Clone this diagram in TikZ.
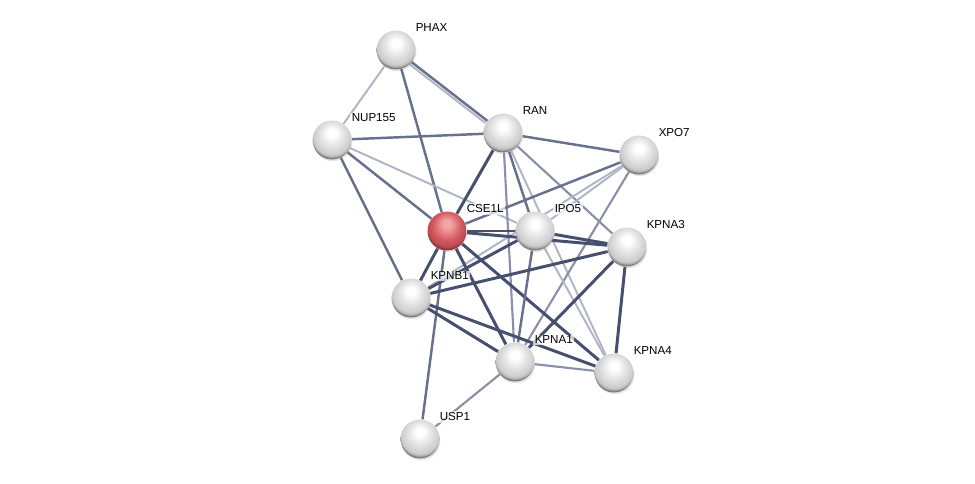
\documentclass[tikz,border=0pt]{standalone}
\usepackage{fontspec}
\setmainfont{Liberation Sans}
\usepackage{xcolor}
\usepackage{tikz}
\usetikzlibrary{positioning,shadows,backgrounds}
\definecolor{edgedark}{HTML}{474F6F}
\definecolor{edgemid}{HTML}{67708D}
\definecolor{edgesoft}{HTML}{8890A9}
\definecolor{edgeweak}{HTML}{B0B4C7}
\definecolor{redtop}{HTML}{F2A4A6}
\definecolor{redmid}{HTML}{D65A60}
\definecolor{redrim}{HTML}{8E2E33}
\pgfdeclareradialshading{greyball}{\pgfqpoint{0bp}{10bp}}{%
color(0bp)=(white); color(5bp)=(white); color(16bp)=(black!12);
color(24bp)=(black!20); color(26bp)=(black!30); color(28bp)=(black!55); color(50bp)=(black!55)}
\pgfdeclareradialshading{redball}{\pgfqpoint{0bp}{10bp}}{%
color(0bp)=(redtop); color(5bp)=(redtop); color(18bp)=(redmid);
color(25bp)=(redmid!85!black); color(28bp)=(redrim); color(50bp)=(redrim)}
\tikzset{every node/.style={font=\fontsize{6.6}{8}\selectfont}}

\begin{document}
\begin{tikzpicture}[
x=0.02cm, y=-0.02cm,
protein/.style={
circle,
minimum size=0.78cm,
inner sep=0pt,
shading=greyball,
drop shadow={opacity=0.2,shadow xshift=0.5pt,shadow yshift=-1pt}
},
query/.style={protein,shading=redball},
lbl/.style={anchor=west,inner sep=0.8pt,fill=white,fill opacity=0.7,text opacity=1},
strong/.style={edgedark,line width=1.7pt},
mid/.style={edgemid,line width=1.4pt},
soft/.style={edgesoft,line width=1.2pt},
weak/.style={edgeweak,line width=1.1pt}
]
\useasboundingbox (0,0) rectangle (975,484);

\node[protein] (phax) at (396,50) {};
\node[protein] (nup) at (332,140) {};
\node[protein] (ran) at (503,133) {};
\node[protein] (xpo) at (639,155) {};
\node[query] (cse) at (447,231) {};
\node[protein] (ipo) at (535,231) {};
\node[protein] (kpna3) at (627,247) {};
\node[protein] (kpnb) at (411,298) {};
\node[protein] (kpna1) at (515,362) {};
\node[protein] (kpna4) at (614,373) {};
\node[protein] (usp) at (420,439) {};

\node[lbl] at ([shift={(18,-22)}]phax.center) {PHAX};
\node[lbl] at ([shift={(18,-22)}]nup.center) {NUP155};
\node[lbl] at ([shift={(18,-22)}]ran.center) {RAN};
\node[lbl] at ([shift={(18,-22)}]xpo.center) {XPO7};
\node[lbl] at ([shift={(18,-22)}]cse.center) {CSE1L};
\node[lbl] at ([shift={(18,-22)}]ipo.center) {IPO5};
\node[lbl] at ([shift={(18,-22)}]kpna3.center) {KPNA3};
\node[lbl] at ([shift={(18,-22)}]kpnb.center) {KPNB1};
\node[lbl] at ([shift={(18,-22)}]kpna1.center) {KPNA1};
\node[lbl] at ([shift={(18,-22)}]kpna4.center) {KPNA4};
\node[lbl] at ([shift={(18,-22)}]usp.center) {USP1};

\begin{scope}[on background layer]
\draw[weak] (phax) -- (nup);
\draw[mid] (phax) -- (cse);
\draw[mid] (phax) -- (ran);
\draw[weak,transform canvas={shift={(-1.2pt,-1.2pt)}}] (phax) -- (ran);
\draw[mid] (nup) -- (ran);
\draw[mid] (nup) -- (cse);
\draw[mid] (nup) -- (kpnb);
\draw[weak] (nup) -- (ipo);
\draw[mid] (ran) -- (xpo);
\draw[strong] (ran) -- (cse);
\draw[mid] (ran) -- (ipo);
\draw[soft] (ran) -- (kpna1);
\draw[soft] (ran) -- (kpna3);
\draw[weak] (ran) -- (kpna4);
\draw[mid] (xpo) -- (cse);
\draw[weak] (xpo) -- (ipo);
\draw[weak] (xpo) -- (kpnb);
\draw[soft] (xpo) -- (kpna1);
\draw[strong] (cse) -- (ipo);
\draw[strong] (cse) -- (kpna3);
\draw[strong] (cse) -- (kpnb);
\draw[strong] (cse) -- (kpna1);
\draw[strong] (cse) -- (kpna4);
\draw[mid] (cse) -- (usp);
\draw[strong] (ipo) -- (kpna3);
\draw[strong] (ipo) -- (kpnb);
\draw[mid] (ipo) -- (kpna1);
\draw[weak] (ipo) -- (kpna4);
\draw[strong] (kpna3) -- (kpnb);
\draw[strong] (kpna3) -- (kpna1);
\draw[strong] (kpna3) -- (kpna4);
\draw[strong] (kpnb) -- (kpna1);
\draw[strong] (kpnb) -- (kpna4);
\draw[soft] (kpna1) -- (kpna4);
\draw[soft] (kpna1) -- (usp);
\end{scope}

\end{tikzpicture}
\end{document}
